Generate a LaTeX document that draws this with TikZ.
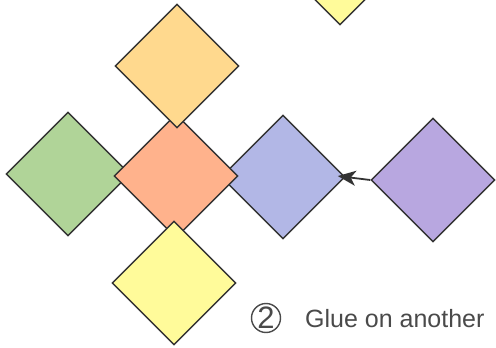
\documentclass[tikz,border=0pt]{standalone}
\usepackage{fontspec}
\setmainfont{Liberation Sans}
\usetikzlibrary{shapes.geometric, arrows.meta}
\definecolor{tileorange}{HTML}{FFD98E}
\definecolor{tilegreen}{HTML}{B0D498}
\definecolor{tilesalmon}{HTML}{FFB28C}
\definecolor{tileblue}{HTML}{B2B7E6}
\definecolor{tileyellow}{HTML}{FFFB9A}
\definecolor{tilepurple}{HTML}{B8A7E0}
\definecolor{inkgray}{HTML}{4A4A4A}
\tikzset{
  tile/.style = {diamond, aspect=1, draw=black!80, line width=1.4pt, inner sep=0pt, minimum size=124pt},
  line/.style = {-{Stealth[length=18pt, width=15pt, inset=5pt]}, line width=1.8pt, draw=black!80},
  stepnum/.style = {circle, draw=inkgray, line width=1.4pt, inner sep=0pt, minimum size=29pt, text=inkgray, font=\fontsize{31}{31}\selectfont},
  caption/.style = {text=inkgray, font=\fontsize{25}{25}\selectfont, inner sep=0pt}
}
\begin{document}
\begin{tikzpicture}[x=1pt, y=-1pt]
\useasboundingbox (0,0) rectangle (496,348);

% Back tiles
\node[tile, fill=tilegreen] (green) at (68,174) {};
\node[tile, fill=tileblue] (blue) at (283,177) {};

% Centre tile and the ones glued over it
\node[tile, fill=tilesalmon] (centre) at (176,176) {};
\node[tile, fill=tileorange] (top) at (177,66) {};
\node[tile, fill=tileyellow] (bottom) at (174,283) {};

% Loose tiles
\node[tile, fill=tilepurple] (loose) at (433,180) {};
\node[tile, fill=tileyellow] (corner) at (340,-37) {};

% Arrow
\draw[line, shorten >=-8pt] (loose.west) -- (blue.east);

% Step label
\node[stepnum] (step) at (266,318) {2};
\node[caption, anchor=base west] (glue) at (305,327) {Glue on another};

\end{tikzpicture}
\end{document}
